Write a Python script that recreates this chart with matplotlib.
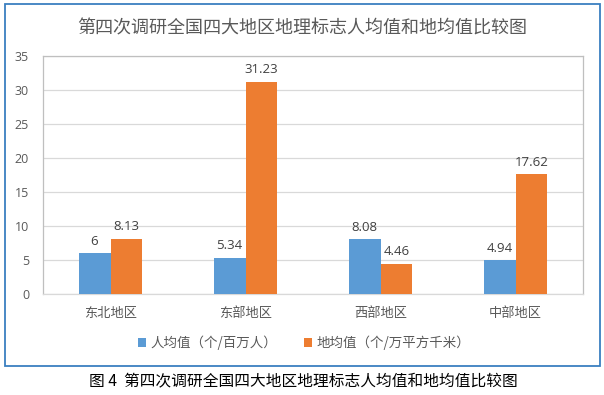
import matplotlib
matplotlib.use("Agg")
import matplotlib.pyplot as plt
from matplotlib.patches import Rectangle
import numpy as np

plt.rcParams['font.family'] = ['Noto Sans CJK SC', 'DejaVu Sans']

categories = ["东北地区", "东部地区", "西部地区", "中部地区"]
per_capita = [6, 5.34, 8.08, 4.94]
per_area = [8.13, 31.23, 4.46, 17.62]
per_capita_labels = ["6", "5.34", "8.08", "4.94"]
per_area_labels = ["8.13", "31.23", "4.46", "17.62"]
series_names = ["人均值（个/百万人）", "地均值（个/万平方千米）"]
title = "第四次调研全国四大地区地理标志人均值和地均值比较图"
caption = "图 4  第四次调研全国四大地区地理标志人均值和地均值比较图"
yticks = [0, 5, 10, 15, 20, 25, 30, 35]

BLUE = "#5B9BD5"
ORANGE = "#ED7D31"
TXT = "#595959"
GRID = "#D9D9D9"

fig = plt.figure(figsize=(6.04, 3.95), dpi=100)
fig.patch.set_facecolor("white")

# outer chart border
fig.patches.append(Rectangle((5/604, 29/395), 595/604, 362/395, transform=fig.transFigure,
                             fill=False, edgecolor="#3A7FC0", linewidth=1.3))

ax = fig.add_axes([43/604, 101/395, 540/604, 238/395])
x = np.arange(len(categories))
w = 0.237
b1 = ax.bar(x - w/2, per_capita, w, color=BLUE, label=series_names[0], zorder=3)
b2 = ax.bar(x + w/2, per_area, w, color=ORANGE, label=series_names[1], zorder=3)

for bars, labs in ((b1, per_capita_labels), (b2, per_area_labels)):
    for r, t in zip(bars, labs):
        ax.annotate(t, (r.get_x() + r.get_width()/2, r.get_height()),
                    xytext=(0, 4), textcoords="offset points", ha="center", va="bottom",
                    fontsize=9.5, color="#404040", family=['Open Sans', 'DejaVu Sans'])

ax.set_xlim(-0.5, 3.5)
ax.set_ylim(0, 35)
ax.set_yticks(yticks)
ax.set_xticks(x)
ax.set_xticklabels(categories, fontsize=9.5, color=TXT)
for lab in ax.get_yticklabels():
    lab.set_fontsize(9)
    lab.set_color(TXT)
    lab.set_family(['Open Sans', 'DejaVu Sans'])
ax.tick_params(axis='both', length=0)
ax.tick_params(axis='y', pad=10)
ax.tick_params(axis='x', pad=9)
ax.yaxis.grid(True, color=GRID, linewidth=0.9, zorder=0)
ax.set_axisbelow(True)
for s in ax.spines.values():
    s.set_color("#BFBFBF")
    s.set_linewidth(0.9)
ax.spines['bottom'].set_color(GRID)

fig.text(302/604, 1 - 28/395, title, ha="center", va="center", fontsize=13, color=TXT)

leg = fig.legend(handles=[b1, b2], loc="center", bbox_to_anchor=(304/604, 1 - 343/395),
                 ncol=2, frameon=False, fontsize=9.7, handlelength=0.6, handleheight=0.6,
                 handletextpad=0.3, columnspacing=2.0)
for t in leg.get_texts():
    t.set_color(TXT)

fig.text(303/604, 1 - 381/395, caption, ha="center", va="center", fontsize=11.3,
         color="black", fontweight="light")

fig.savefig("out.png", dpi=100)
